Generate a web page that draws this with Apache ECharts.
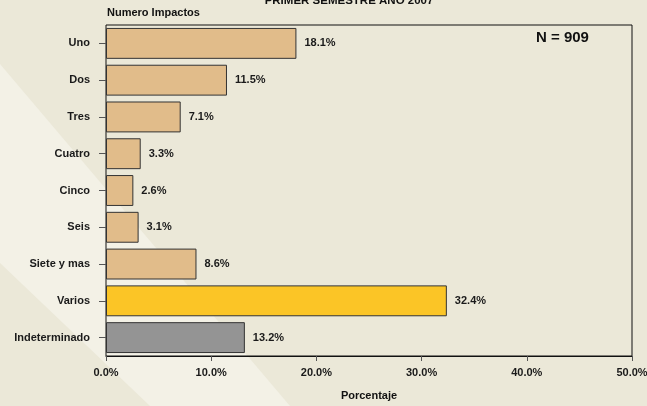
<!DOCTYPE html>
<html>
<head>
<meta charset="utf-8">
<script src="https://cdn.jsdelivr.net/npm/echarts@6/dist/echarts.min.js"></script>
<style>
  html, body { margin: 0; padding: 0; background: #ebe8d8; }
  #content { width: 647px; height: 406px; }
</style>
</head>
<body>
<div id="content"></div>
<script>
  // data
  var categories = ['Uno', 'Dos', 'Tres', 'Cuatro', 'Cinco', 'Seis', 'Siete y mas', 'Varios', 'Indeterminado'];
  var porcentajes = [18.1, 11.5, 7.1, 3.3, 2.6, 3.1, 8.6, 32.4, 13.2];
  var xTicks = [0, 10, 20, 30, 40, 50];
  var titulo = 'PRIMER SEMESTRE AÑO 2007';
  var nTotal = 909;

  // fill per bar: tan for counts, yellow for Varios, grey for Indeterminado
  var tan = '#e1bc8a', yellow = '#fbc526', grey = '#949494';
  var fills = [tan, tan, tan, tan, tan, tan, tan, yellow, grey];

  var font = '"Liberation Sans", Arial, sans-serif';
  var chart = echarts.init(document.getElementById('content'));

  chart.setOption({
    backgroundColor: '#ebe8d8',
    animation: false,
    textStyle: { fontFamily: font },
    graphic: [
      { type: 'polygon', z: -10, silent: true,
        shape: { points: [[0, 64], [290, 406], [150, 406], [0, 263]] },
        style: { fill: '#f3f1e6' } },
      { type: 'text', x: 349, y: -5,
        style: { text: titulo, font: 'bold 11.5px ' + font, fill: '#111', align: 'center' } },
      { type: 'text', x: 107, y: 7,
        style: { text: 'Numero Impactos', font: 'bold 11px ' + font, fill: '#111' } },
      { type: 'text', x: 536, y: 30,
        style: { text: 'N = ' + nTotal, font: 'bold 15px ' + font, fill: '#111' } },
      { type: 'text', x: 369, y: 390,
        style: { text: 'Porcentaje', font: 'bold 11px ' + font, fill: '#111', align: 'center' } }
    ],
    grid: {
      left: 106, right: 15, top: 25, bottom: 50,
      outerBoundsMode: 'none',
      show: true, borderColor: '#111', borderWidth: 1, backgroundColor: 'transparent'
    },
    xAxis: {
      type: 'value', min: xTicks[0], max: xTicks[xTicks.length - 1], interval: 10,
      splitLine: { show: false },
      axisLine: { show: true, lineStyle: { color: '#111', width: 1 } },
      axisTick: { show: true, length: 5, lineStyle: { color: '#555' } },
      axisLabel: {
        margin: 11, color: '#1a1a1a', fontWeight: 'bold', fontSize: 11,
        formatter: function (v) { return v.toFixed(1) + '%'; }
      }
    },
    yAxis: {
      type: 'category', data: categories, inverse: true,
      axisLine: { show: false },
      axisTick: { show: true, alignWithLabel: true, length: 7, lineStyle: { color: '#555' } },
      axisLabel: { margin: 16, color: '#1a1a1a', fontWeight: 'bold', fontSize: 11 }
    },
    series: [{
      type: 'bar',
      barCategoryGap: '16%',
      data: porcentajes.map(function (v, i) {
        return { value: v, itemStyle: { color: fills[i] } };
      }),
      itemStyle: { borderColor: '#333', borderWidth: 1 },
      label: {
        show: true, position: 'right', distance: 8,
        color: '#1a1a1a', fontWeight: 'bold', fontSize: 11,
        formatter: function (p) { return p.value.toFixed(1) + '%'; }
      }
    }]
  });
</script>
</body>
</html>
